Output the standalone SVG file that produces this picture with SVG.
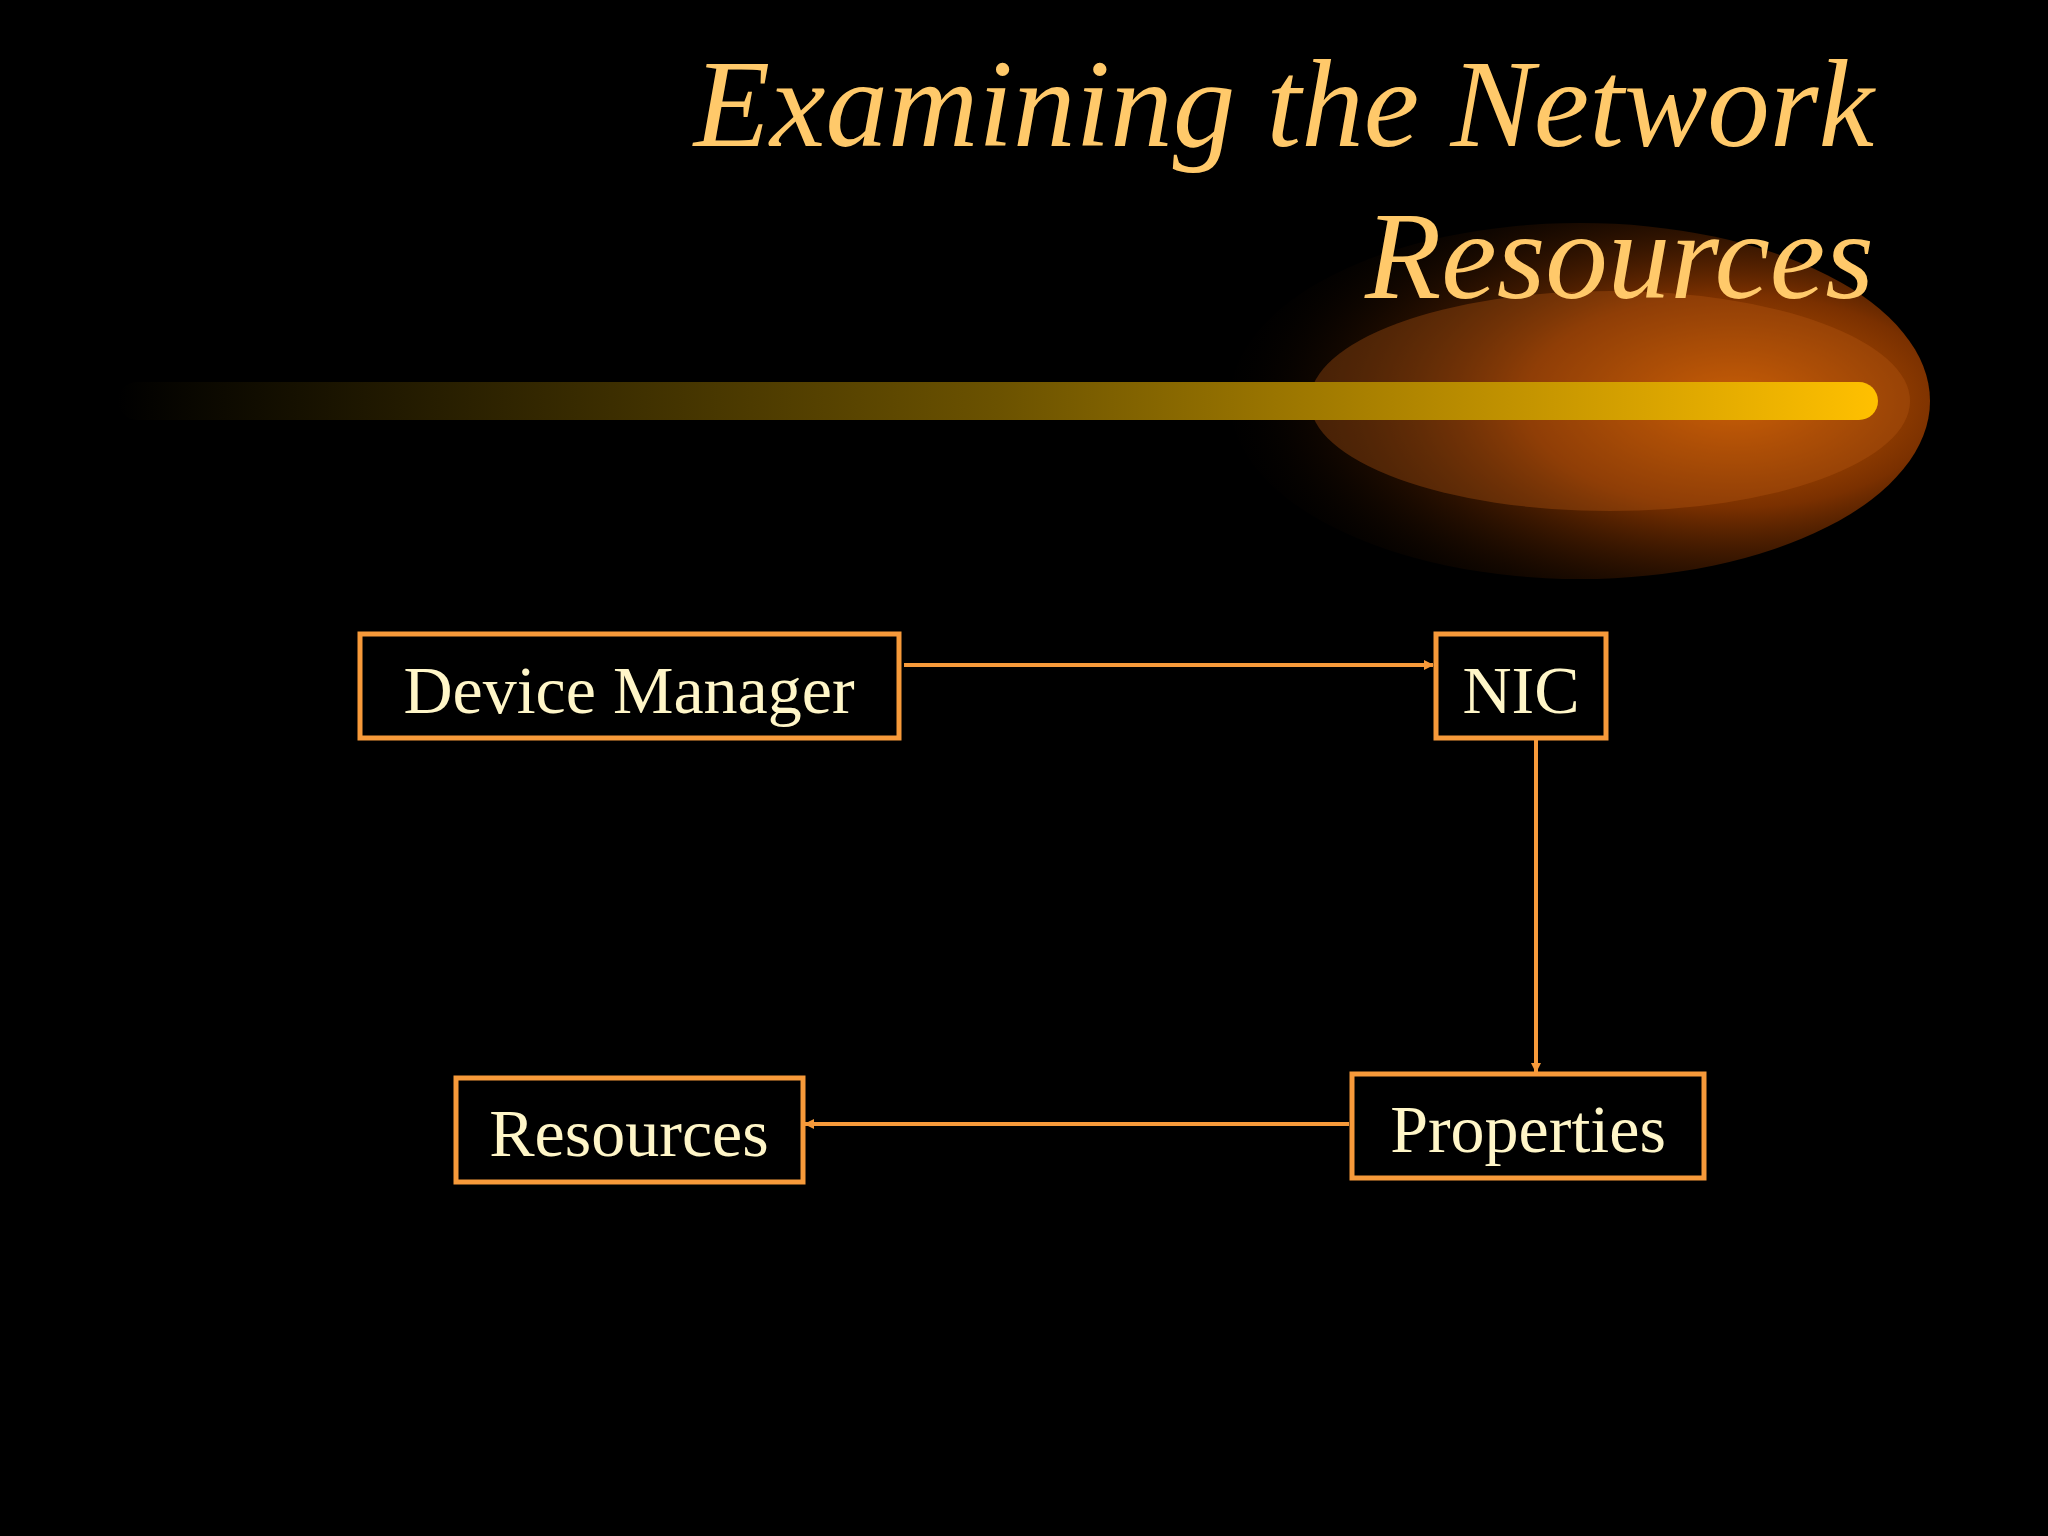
<svg xmlns="http://www.w3.org/2000/svg" width="2048" height="1536" viewBox="0 0 2048 1536">
<defs>
<linearGradient id="bar" x1="0" x2="1" y1="0" y2="0">
<stop offset="0" stop-color="#000"/><stop offset="0.5" stop-color="#6b5200"/><stop offset="1" stop-color="#ffc000"/>
</linearGradient>
<radialGradient id="glow" cx="0.72" cy="0.5" r="0.75">
<stop offset="0" stop-color="#d06000"/><stop offset="0.4" stop-color="#7a3000"/><stop offset="1" stop-color="#000" stop-opacity="0"/>
</radialGradient>
<marker id="ah" markerWidth="10" markerHeight="10" refX="9" refY="5" orient="auto" markerUnits="userSpaceOnUse"><path d="M0,0 L10,5 L0,10 z" fill="#f79a3a"/></marker>
<style>
.box{fill:none;stroke:#f79a3a;stroke-width:5}
.lbl{font-family:"Liberation Serif",serif;font-size:68px;fill:#fff6c8;text-anchor:middle}
.ttl{font-family:"Liberation Serif",serif;font-style:italic;font-size:125px;fill:#ffc96a;text-anchor:end}
.con{stroke:#f79a3a;stroke-width:4;fill:none;marker-end:url(#ah)}
</style>
</defs>
<rect width="2048" height="1536" fill="#000"/>
<ellipse cx="1580" cy="401" rx="350" ry="178" fill="url(#glow)"/>
<ellipse cx="1610" cy="401" rx="300" ry="110" fill="#b85a10" opacity="0.35"/>
<rect x="118" y="382" width="1760" height="38" rx="19" fill="url(#bar)"/>
<text class="ttl" x="1874" y="146">Examining the Network</text>
<text class="ttl" x="1874" y="298">Resources</text>
<g id="connectors">
<line class="con" x1="904" y1="665" x2="1433" y2="665"/>
<line class="con" x1="1536" y1="739" x2="1536" y2="1072"/>
<line class="con" x1="1349" y1="1124" x2="805" y2="1124"/>
</g>
<g id="devmgr"><rect class="box" x="360" y="634" width="539" height="104"/><text class="lbl" x="629" y="713">Device Manager</text></g>
<g id="nic"><rect class="box" x="1436" y="634" width="170" height="104"/><text class="lbl" x="1521" y="713">NIC</text></g>
<g id="properties"><rect class="box" x="1352" y="1074" width="352" height="104"/><text class="lbl" x="1528" y="1152">Properties</text></g>
<g id="resources"><rect class="box" x="456" y="1078" width="347" height="104"/><text class="lbl" x="629" y="1156">Resources</text></g>
</svg>
